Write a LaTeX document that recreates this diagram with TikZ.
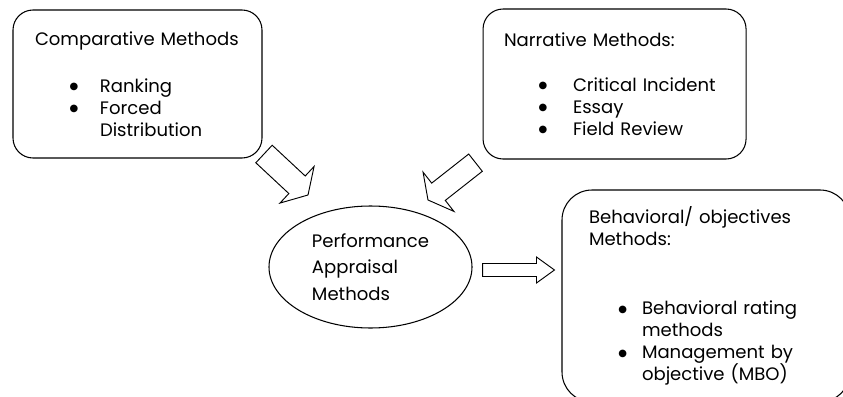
\documentclass[tikz,border=0pt]{standalone}
\usepackage{fontspec}
\setmainfont{Poppins}
\newfontfamily\symf{DejaVu Sans}
\usepackage{tikz}
\usetikzlibrary{shapes, shapes.geometric, positioning, calc}

% bullet item: #1 text offset, #2 bullet offset, #3 text
\newcommand{\itm}[3]{\makebox[#1][l]{\hspace*{#2}\raisebox{2.2pt}{\symf\fontsize{8.5}{8.5}\selectfont ●}}#3}
% block arrow: #1 tail, #2 tip, #3 shaft half width, #4 head half width, #5 head length
\newcommand{\blockarrow}[5]{%
  \coordinate (hb) at ($(#2)!#5!(#1)$);
  \draw[blockarr] ($(#1)!#3!90:(#2)$) -- ($(hb)!#3!90:(#2)$) -- ($(hb)!#4!90:(#2)$)
    -- (#2) -- ($(hb)!#4!-90:(#2)$) -- ($(hb)!#3!-90:(#2)$) -- ($(#1)!#3!-90:(#2)$) -- cycle;
}

\begin{document}
\begin{tikzpicture}[
  every node/.style={font=\fontsize{15.4}{18.8}\selectfont},
  methbox/.style={rectangle, rounded corners=0.6cm, draw, line width=0.9pt,
                  fill=white, align=left, inner ysep=0pt},
  perfell/.style={ellipse, draw, line width=0.9pt, fill=white, align=left,
                  inner sep=0pt, minimum width=6.09cm, minimum height=3.66cm,
                  font=\fontsize{15.4}{22.6}\selectfont},
  blockarr/.style={draw, line width=0.8pt, fill=white, line join=miter},
]
\clip (0,0) rectangle (25.29,11.88);

\node[methbox, text width=6.15cm, inner xsep=0.66cm, minimum height=4.44cm]
  (cmp) at (4.125,9.36)
  {Comparative Methods\\[0.76cm]
   \itm{1.95cm}{1.04cm}{Ranking}\\
   \itm{1.95cm}{1.04cm}{Forced}\\
   \hspace*{1.95cm}Distribution};
\node[methbox, text width=6.63cm, inner xsep=0.63cm, minimum height=4.5cm,
      right=6.6cm of cmp] (nar)
  {Narrative Methods:\\[0.7cm]
   \itm{2.07cm}{1.04cm}{Critical Incident}\\
   \itm{2.07cm}{1.04cm}{Essay}\\
   \itm{2.07cm}{1.04cm}{Field Review}};
\node[perfell] (perf) at (11.115,3.87) {Performance\\Appraisal\\Methods};
\node[methbox, rounded corners=0.9cm, text width=7.02cm, inner xsep=0.81cm,
      minimum height=6.36cm] (beh) at (21.18,3.0)
  {Behavioral/ objectives\\Methods:\\[1.42cm]
   \itm{1.59cm}{0.88cm}{Behavioral rating}\\
   \hspace*{1.59cm}methods\\
   \itm{1.59cm}{0.88cm}{Management by}\\
   \hspace*{1.59cm}objective (MBO)};

% block arrows
\coordinate (a1s) at (7.92,7.26);
\coordinate (a1e) at (9.24,6.03);
\coordinate (a2s) at (14.265,7.0);
\coordinate (a2e) at (12.84,5.88);
\coordinate (a3s) at ($(perf.east)+(0.3,-0.09)$);
\coordinate (a3e) at ($(a3s-|beh.west)+(-0.21,0)$);
\blockarrow{a1s}{a1e}{0.36cm}{0.75cm}{0.45cm}
\blockarrow{a2s}{a2e}{0.33cm}{0.75cm}{0.4cm}
\blockarrow{a3s}{a3e}{0.195cm}{0.39cm}{0.54cm}
\end{tikzpicture}
\end{document}
